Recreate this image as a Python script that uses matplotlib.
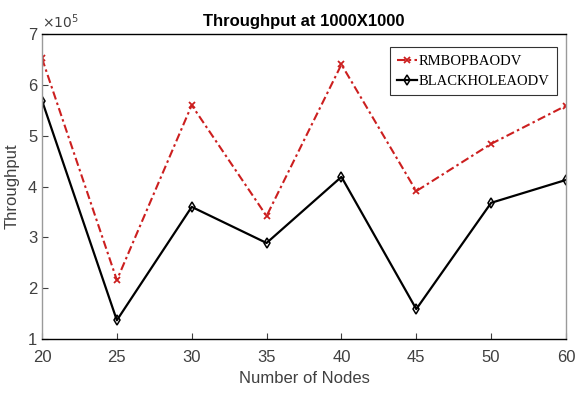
import matplotlib
matplotlib.use("Agg")
import matplotlib.pyplot as plt
from matplotlib import font_manager

nodes = ["20", "25", "30", "35", "40", "45", "50", "60"]
rmbopbaodv = [6.52e5, 2.16e5, 5.60e5, 3.42e5, 6.40e5, 3.91e5, 4.84e5, 5.59e5]
blackholeaodv = [5.69e5, 1.37e5, 3.60e5, 2.89e5, 4.19e5, 1.59e5, 3.68e5, 4.13e5]
yticks = [1, 2, 3, 4, 5, 6, 7]

names = {f.name for f in font_manager.fontManager.ttflist}
sans = "Liberation Sans Narrow" if "Liberation Sans Narrow" in names else "Liberation Sans"

plt.rcParams["font.family"] = [sans, "DejaVu Sans"]
grey = "#404040"

fig = plt.figure(figsize=(5.85, 3.98), dpi=100)
ax = fig.add_axes([0.0718, 0.148, 0.8957, 0.7666])

xs = list(range(len(nodes)))
ax.plot(xs, rmbopbaodv, color="#cc1f1f", linestyle=(0, (4, 1.6, 1.2, 1.6)), linewidth=1.5,
        marker="x", markersize=5, markeredgewidth=1.3, label="RMBOPBAODV")
ax.plot(xs, blackholeaodv, color="black", linestyle="-", linewidth=1.6,
        marker="d", markersize=5, markerfacecolor="none", markeredgewidth=1.1,
        label="BLACKHOLEAODV")

ax.set_xlim(0, len(nodes) - 1)
ax.set_xticks(xs)
ax.set_xticklabels(nodes)
ax.set_ylim(1e5, 7e5)
ax.set_yticks([v * 1e5 for v in yticks])
ax.set_yticklabels([str(v) for v in yticks])

ax.tick_params(direction="in", length=4, colors=grey, labelsize=12, width=0.8)
ax.tick_params(axis="x", pad=8)
for side in ["left", "right"]:
    ax.spines[side].set_color("#9a9a9a")
for side in ["top", "bottom"]:
    ax.spines[side].set_color("black")
for s in ax.spines.values():
    s.set_linewidth(1.0)

ax.text(0.0, 1.01, r"$\times 10^5$", transform=ax.transAxes, color=grey,
        fontsize=10, ha="left", va="bottom", family="DejaVu Sans")

ax.set_title("Throughput at 1000X1000", fontsize=12, fontweight="bold", pad=6)
ax.set_xlabel("Number of Nodes", fontsize=12, color=grey, labelpad=4)
ax.set_ylabel("Throughput", fontsize=12, color=grey, labelpad=6)

leg = ax.legend(loc="upper right", bbox_to_anchor=(0.983, 0.957), frameon=True,
                fancybox=False, prop={"family": "Liberation Serif", "size": 10.5},
                handlelength=1.4, handletextpad=0.1, borderpad=0.5,
                labelspacing=0.5, borderaxespad=0.0)
leg.get_frame().set_edgecolor("black")
leg.get_frame().set_linewidth(0.8)

fig.savefig("out.png", dpi=100)
